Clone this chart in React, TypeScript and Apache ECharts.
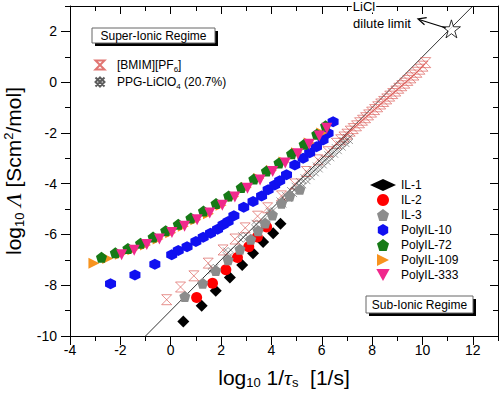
import React, { useEffect, useRef } from "react";
import * as echarts from "echarts";

const FONT = "'Liberation Sans', Arial, Helvetica, sans-serif";

// axis ranges and tick steps
const xRange = [-4, 13];
const yRange = [-10, 3];
const majorStep = 2;
const minorStep = 1;

// reference (Walden-type) line and LiCl dilute limit
const waldenLine = [[-1, -10], [12, 3]];
const liclPoint = [[11.15, 2.1]];

// series values [log10 1/tau_s, log10 Lambda]
const bmim = [
  [-0.16, -8.57], [0.39, -8.07], [0.92, -7.63], [1.49, -7.13], [2.08, -6.61], [2.55, -6.18],
  [2.96, -5.74], [3.45, -5.28], [3.85, -4.95], [4.40, -4.48], [4.93, -4.01], [5.39, -3.52],
  [5.85, -3.06], [6.25, -2.74], [6.58, -2.41], [6.75, -2.27], [6.88, -2.16], [7.0, -2.05],
  [7.13, -1.93], [7.25, -1.83], [7.38, -1.72], [7.5, -1.6], [7.62, -1.5], [7.74, -1.4],
  [7.86, -1.29], [7.98, -1.18], [8.1, -1.08], [8.22, -0.97], [8.34, -0.86], [8.46, -0.76],
  [8.58, -0.66], [8.7, -0.55], [8.82, -0.45], [8.94, -0.35], [9.06, -0.24], [9.18, -0.14],
  [9.3, -0.04], [9.42, 0.07], [9.54, 0.17], [9.66, 0.28], [9.78, 0.39], [9.9, 0.51],
  [10.02, 0.63], [10.13, 0.77],
];
const ppg = [
  [1.69, -7.37], [2.28, -6.71], [2.88, -6.11], [3.41, -5.62], [3.98, -5.14], [4.4, -4.74],
  [4.62, -4.52], [4.82, -4.33], [5.0, -4.16], [5.18, -3.98], [5.35, -3.82], [5.52, -3.66],
  [5.68, -3.51], [5.84, -3.36], [6.0, -3.2], [6.15, -3.06], [6.3, -2.92], [6.45, -2.78],
  [6.6, -2.64], [6.75, -2.5], [6.9, -2.36], [7.04, -2.24],
];
const il1 = [
  [0.5, -9.43], [1.23, -8.81], [1.79, -8.22], [2.35, -7.7], [2.84, -7.2], [3.27, -6.74],
  [3.67, -6.3], [4.07, -5.95], [4.36, -5.58],
];
const il2 = [
  [1.03, -8.48], [1.66, -7.92], [2.19, -7.39], [2.65, -6.91], [3.1, -6.48], [3.44, -6.1], [3.81, -5.71],
];
const il3 = [
  [0.56, -8.44], [1.27, -7.92], [1.79, -7.42], [2.28, -7.0], [2.75, -6.58], [3.18, -6.19],
  [3.47, -5.85], [3.75, -5.55], [4.04, -5.23], [4.4, -4.77], [4.73, -4.48], [5.13, -4.22],
];
const polyIL10 = [
  [-2.39, -7.94], [-1.42, -7.6], [-0.63, -7.17], [0.04, -6.8], [0.3, -6.63], [0.65, -6.48],
  [1.0, -6.28], [1.29, -6.11], [1.58, -5.95], [1.86, -5.79], [2.08, -5.62], [2.28, -5.49],
  [2.51, -5.26], [2.9, -4.93], [3.27, -4.7], [3.61, -4.48], [3.87, -4.24], [4.13, -4.05],
  [4.33, -3.88], [4.6, -3.65], [4.93, -3.26], [5.26, -3.0], [5.52, -2.78], [5.79, -2.54],
  [6.05, -2.28], [6.25, -2.01], [6.45, -1.56],
];
const polyIL109 = [
  [-3.05, -7.13], [-2.5, -6.95], [-2.0, -6.78], [-1.5, -6.6], [-1.0, -6.42], [-0.5, -6.18],
  [0.0, -5.93], [0.5, -5.68], [1.0, -5.42], [1.5, -5.18], [2.0, -4.85], [2.5, -4.5],
  [3.0, -4.15], [3.5, -3.8], [4.0, -3.48], [4.5, -3.15], [5.0, -2.78], [5.5, -2.4], [6.0, -2.0],
];
const polyIL72 = [
  [-2.75, -6.9], [-2.2, -6.72], [-1.7, -6.55], [-1.2, -6.35], [-0.7, -6.1], [-0.2, -5.85],
  [0.3, -5.6], [0.8, -5.35], [1.3, -5.08], [1.8, -4.78], [2.3, -4.48], [2.8, -4.15],
  [3.3, -3.82], [3.8, -3.5], [4.3, -3.18], [4.8, -2.82], [5.3, -2.45], [5.8, -2.05], [6.15, -1.72],
];
const polyIL333 = [
  [-1.95, -6.8], [-1.45, -6.62], [-0.95, -6.4], [-0.45, -6.18], [0.05, -5.92], [0.55, -5.68],
  [1.05, -5.42], [1.55, -5.15], [2.05, -4.85], [2.55, -4.52], [3.05, -4.18], [3.55, -3.85],
  [4.05, -3.52], [4.55, -3.18], [5.05, -2.82], [5.5, -2.45], [5.9, -2.12], [6.2, -1.82],
];

const SYM = {
  hourglass: "path://M0,0 L10,0 L0,10 L10,10 Z",
  hatched: "path://M0,0 L10,10 M10,0 L0,10 M5,0 L10,5 L5,10 L0,5 Z",
  pentagon: "path://M5,0 L10,3.8 L8.1,10 L1.9,10 L0,3.8 Z",
  hexagon: "path://M5,0 L9.33,2.5 L9.33,7.5 L5,10 L0.67,7.5 L0.67,2.5 Z",
  triRight: "path://M0,0 L10,5 L0,10 Z",
  triDown: "path://M0,0 L10,0 L5,9 Z",
  star: "path://M50,0 L61,35 L98,35 L68,57 L79,91 L50,70 L21,91 L32,57 L2,35 L39,35 Z",
};

export default function App() {
  const ref = useRef<HTMLDivElement>(null);
  useEffect(() => {
    if (!ref.current) return;
    const chart = echarts.init(ref.current, null, { renderer: "svg" });
    const ls = { color: "#000", width: 1 };
    const nameRich = {
      n: { fontSize: 21, fontFamily: FONT, color: "#000", lineHeight: 24 },
      sub: { fontSize: 13, fontFamily: FONT, color: "#000", lineHeight: 12, verticalAlign: "bottom" },
      sup: { fontSize: 13, fontFamily: FONT, color: "#000", lineHeight: 12, verticalAlign: "top" },
      it: { fontSize: 22, fontFamily: "'Liberation Serif', serif", fontStyle: "italic", color: "#000", lineHeight: 24 },
    };
    const mkX = (position: string, step: number, len: number, inside: boolean, line: boolean, labels: boolean, extra = {}) => ({
      type: "value", position, min: xRange[0], max: xRange[1], interval: step,
      splitLine: { show: false },
      axisLine: { show: line, onZero: false, lineStyle: ls },
      axisTick: { show: true, inside, length: len, lineStyle: ls },
      axisLabel: labels
        ? { show: true, color: "#000", fontSize: 14, fontFamily: FONT, margin: 7, showMaxLabel: false }
        : { show: false },
      ...extra,
    });
    const mkY = (position: string, step: number, len: number, inside: boolean, line: boolean, labels: boolean, extra = {}) => ({
      type: "value", position, min: yRange[0], max: yRange[1], interval: step,
      splitLine: { show: false },
      axisLine: { show: line, onZero: false, lineStyle: ls },
      axisTick: { show: true, inside, length: len, lineStyle: ls },
      axisLabel: labels
        ? { show: true, color: "#000", fontSize: 14, fontFamily: FONT, margin: 13, showMaxLabel: false }
        : { show: false },
      ...extra,
    });
    const sc = (name: string, data: number[][], symbol: string, size: number, color: string, hollow = false, bw = 0.8) => ({
      name,
      type: "scatter",
      data,
      symbol,
      symbolSize: size,
      itemStyle: hollow
        ? { color: "none", borderColor: color, borderWidth: bw }
        : { color, opacity: 1 },
      z: 3,
    });
    chart.setOption({
      animation: false,
      backgroundColor: "#fff",
      grid: { left: 70, top: 6, width: 428, height: 330, containLabel: false, outerBoundsMode: "none" },
      xAxis: [
        mkX("bottom", majorStep, 9, false, true, true, {
          name: "{n|log}{sub|10}{n| 1/}{it|τ}{sub|s}{n|  [1/s]}",
          nameLocation: "middle", nameGap: 29,
          nameTextStyle: { rich: nameRich },
        }),
        mkX("bottom", minorStep, 5, false, false, false),
        mkX("top", majorStep, 8, true, true, false),
        mkX("top", minorStep, 5, true, false, false),
      ],
      yAxis: [
        mkY("left", majorStep, 9, false, true, true, {
          name: "{n|log}{sub|10}{n| }{it|Λ}{n| [Scm}{sup|2}{n|/mol]}",
          nameLocation: "middle", nameGap: 38, nameRotate: 90,
          nameTextStyle: { rich: nameRich },
        }),
        mkY("left", minorStep, 5, false, false, false),
        mkY("right", majorStep, 8, true, true, false),
        mkY("right", minorStep, 5, true, false, false),
      ],
      legend: [
        {
          data: ["[BMIM][PF6]", "PPG-LiClO4 (20.7%)"],
          orient: "vertical", left: 88, top: 53,
          itemWidth: 24, itemHeight: 9, itemGap: 2,
          formatter: (name: string) =>
            name === "[BMIM][PF6]" ? "{a|[BMIM][PF}{s|6}{a|]}" : "{a|PPG-LiClO}{s|4}{a| (20.7%)}",
          textStyle: {
            color: "#000", fontFamily: FONT, fontSize: 12,
            rich: {
              a: { fontSize: 12, fontFamily: FONT, color: "#000", lineHeight: 16 },
              s: { fontSize: 8, fontFamily: FONT, color: "#000", lineHeight: 10, verticalAlign: "bottom" },
            },
          },
        },
        {
          data: ["IL-1", "IL-2", "IL-3", "PolyIL-10", "PolyIL-72", "PolyIL-109", "PolyIL-333"],
          orient: "vertical", left: 365, top: 174,
          itemWidth: 26, itemHeight: 12, itemGap: 3,
          textStyle: { color: "#000", fontFamily: FONT, fontSize: 12 },
        },
      ],
      series: [
        {
          type: "line", data: waldenLine, symbol: "none", silent: true,
          lineStyle: { color: "#000", width: 0.8 }, z: 2,
        },
        {
          type: "scatter", data: liclPoint, symbol: SYM.star, symbolSize: 18,
          itemStyle: { color: "#fff", borderColor: "#000", borderWidth: 1 }, z: 4,
        },
        sc("[BMIM][PF6]", bmim, SYM.hourglass, 10, "#d9534f", true, 0.8),
        sc("PPG-LiClO4 (20.7%)", ppg, SYM.hatched, 10, "#333", true, 0.6),
        sc("IL-1", il1, "diamond", 12, "#000"),
        sc("IL-2", il2, "circle", 11, "#ff0000"),
        sc("IL-3", il3, SYM.pentagon, 11, "#8c8c8c"),
        sc("PolyIL-10", polyIL10, SYM.hexagon, 11, "#1010f0"),
        sc("PolyIL-109", polyIL109, SYM.triRight, 11, "#f7931e"),
        sc("PolyIL-72", polyIL72, SYM.pentagon, 11, "#167a16"),
        sc("PolyIL-333", polyIL333, SYM.triDown, 11, "#f0288c"),
      ],
      graphic: [
        { type: "rect", shape: { x: 95, y: 31, width: 123, height: 15 }, style: { fill: "#000" }, z: 10 },
        { type: "rect", shape: { x: 92, y: 28, width: 123, height: 15 }, style: { fill: "#fff", stroke: "#666", lineWidth: 1 }, z: 11 },
        { type: "text", x: 153.5, y: 36, style: { text: "Super-Ionic Regime", fill: "#000", font: `12px ${FONT}`, align: "center", verticalAlign: "middle" }, z: 12 },
        { type: "rect", shape: { x: 369, y: 299, width: 107, height: 17 }, style: { fill: "#000" }, z: 10 },
        { type: "rect", shape: { x: 366, y: 296, width: 107, height: 17 }, style: { fill: "#fff", stroke: "#666", lineWidth: 1 }, z: 11 },
        { type: "text", x: 419.5, y: 304.5, style: { text: "Sub-Ionic Regime", fill: "#000", font: `12px ${FONT}`, align: "center", verticalAlign: "middle" }, z: 12 },
        { type: "text", x: 364, y: 6, style: { text: "LiCl", fill: "#000", font: `13px ${FONT}`, align: "center", verticalAlign: "middle", backgroundColor: "#fff", padding: [0, 1] }, z: 12 },
        { type: "text", x: 382, y: 23, style: { text: "dilute limit", fill: "#000", font: `13px ${FONT}`, align: "center", verticalAlign: "middle" }, z: 12 },
        { type: "line", shape: { x1: 446, y1: 28, x2: 419, y2: 19.5 }, style: { stroke: "#000", lineWidth: 1.2 }, z: 12 },
        { type: "polyline", shape: { points: [[424.5, 24.7], [418, 19], [426.7, 17.6]] }, style: { stroke: "#000", fill: "none", lineWidth: 1.2 }, z: 12 },
      ],
    });
    return () => chart.dispose();
  }, []);
  return (
    <div
      ref={ref}
      style={{ position: "fixed", left: 0, top: 0, width: 500, height: 399, background: "#fff" }}
    />
  );
}
